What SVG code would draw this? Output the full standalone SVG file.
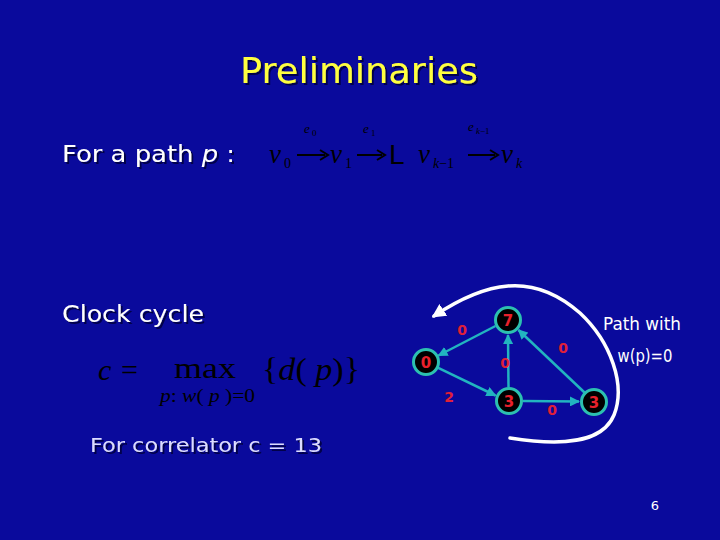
<svg xmlns="http://www.w3.org/2000/svg" width="720" height="540" viewBox="0 0 720 540">
<defs>
<style>
.comic{font-family:"Comic Sans MS","DejaVu Sans","Liberation Sans",sans-serif;}
.math{font-family:"Liberation Serif","Times New Roman",serif;fill:#000;}
.edge{stroke:#22b4c0;stroke-width:2.5;fill:none;marker-end:url(#ah);}
.node circle{fill:#000;stroke:#2cc0b0;stroke-width:3;}
.node text{font-family:"DejaVu Sans","Liberation Sans",sans-serif;font-weight:bold;font-size:15px;fill:#e8202c;text-anchor:middle;}
.elab{font-family:"DejaVu Sans","Liberation Sans",sans-serif;font-weight:bold;font-size:14px;fill:#e02038;text-anchor:middle;}
.shadow{filter:url(#sh);}
</style>
<marker id="ah" viewBox="0 0 10 10" refX="9" refY="5" markerWidth="4" markerHeight="4" orient="auto" markerUnits="strokeWidth">
<path d="M0,0 L10,5 L0,10 z" fill="#22b4c0"/>
</marker>
<marker id="wh" viewBox="0 0 10 10" refX="8" refY="5" markerWidth="4" markerHeight="4" orient="auto" markerUnits="strokeWidth">
<path d="M0,0 L10,5 L0,10 z" fill="#ffffff"/>
</marker>
<filter id="sh" x="-10%" y="-30%" width="120%" height="160%">
<feDropShadow dx="2" dy="2" stdDeviation="0.6" flood-color="#000040" flood-opacity="0.9"/>
</filter>
</defs>
<rect width="720" height="540" fill="#0a0a9c"/>

<g id="title">
<text class="comic shadow" x="359" y="83" font-size="36" fill="#ffff40" text-anchor="middle" textLength="238" lengthAdjust="spacingAndGlyphs">Preliminaries</text>
</g>

<g id="path-label">
<text class="comic shadow" x="62" y="162" font-size="23" fill="#ffffff" textLength="173" lengthAdjust="spacingAndGlyphs">For a path <tspan font-style="italic">p</tspan> :</text>
</g>

<g id="path-formula" class="math">
<text x="269" y="163" font-size="27" font-style="italic">v</text>
<text x="284" y="168" font-size="14">0</text>
<text x="304" y="133" font-size="13" font-style="italic">e</text><text x="312" y="136" font-size="9">0</text>
<line x1="297" y1="155" x2="325" y2="155" stroke="#000" stroke-width="2"/>
<path d="M320,150 L328,155 L320,160" fill="none" stroke="#000" stroke-width="2"/>
<text x="330" y="163" font-size="27" font-style="italic">v</text>
<text x="345" y="168" font-size="14">1</text>
<text x="363" y="133" font-size="13" font-style="italic">e</text><text x="371" y="136" font-size="9">1</text>
<line x1="357" y1="155" x2="382" y2="155" stroke="#000" stroke-width="2"/>
<path d="M377,150 L385,155 L377,160" fill="none" stroke="#000" stroke-width="2"/>
<text x="389" y="164" font-size="28" font-family="Liberation Sans, sans-serif">L</text>
<text x="418" y="163" font-size="27" font-style="italic">v</text>
<text x="433" y="168" font-size="14"><tspan font-style="italic">k</tspan>−1</text>
<text x="468" y="131" font-size="13" font-style="italic">e</text><text x="476" y="134" font-size="9"><tspan font-style="italic">k</tspan>−1</text>
<line x1="468" y1="155" x2="495" y2="155" stroke="#000" stroke-width="2"/>
<path d="M490,150 L498,155 L490,160" fill="none" stroke="#000" stroke-width="2"/>
<text x="501" y="163" font-size="27" font-style="italic">v</text>
<text x="516" y="168" font-size="14" font-style="italic">k</text>
</g>

<g id="clock-label">
<text class="comic shadow" x="62" y="322" font-size="23" fill="#ffffff" textLength="142" lengthAdjust="spacingAndGlyphs">Clock cycle</text>
</g>

<g id="clock-formula" class="math">
<text x="98" y="380" font-size="30" font-style="italic">c</text>
<text x="121" y="380" font-size="30">=</text>
<text x="174" y="378" font-size="29" textLength="62" lengthAdjust="spacingAndGlyphs">max</text>
<text x="160" y="402" font-size="19" textLength="95" lengthAdjust="spacingAndGlyphs"><tspan font-style="italic">p</tspan>: <tspan font-style="italic">w</tspan>( <tspan font-style="italic">p</tspan> )=0</text>
<text x="262" y="380" font-size="32" textLength="98" lengthAdjust="spacingAndGlyphs">{<tspan font-style="italic">d</tspan>( <tspan font-style="italic">p</tspan>)}</text>
</g>

<g id="correlator">
<text class="comic shadow" x="90" y="452" font-size="20" fill="#dcdcff" textLength="232" lengthAdjust="spacingAndGlyphs">For correlator c = 13</text>
</g>

<g id="connectors">
<line class="edge" x1="495.5" y1="326" x2="438.5" y2="355.5"/>
<line class="edge" x1="437.7" y1="367.6" x2="495.5" y2="395.5"/>
<line class="edge" x1="508.5" y1="387" x2="508" y2="335"/>
<line class="edge" x1="523" y1="401" x2="579" y2="401.5"/>
<line class="edge" x1="584.5" y1="392.5" x2="518.5" y2="330"/>
<path d="M510,438 C560,446 602,444 614,415 C626,385 611,342 580,313 C556,292 532,284 508,286 C482,288 458,300 434,316" fill="none" stroke="#ffffff" stroke-width="3.5" stroke-linecap="round" marker-end="url(#wh)"/>
</g>

<g id="edge-labels">
<text class="elab" x="462" y="335">0</text>
<text class="elab" x="449" y="402">2</text>
<text class="elab" x="505" y="368">0</text>
<text class="elab" x="563" y="353">0</text>
<text class="elab" x="552" y="415">0</text>
</g>

<g id="n7" class="node"><circle cx="508" cy="320" r="12.5"/><text x="508" y="326">7</text></g>
<g id="n0" class="node"><circle cx="426" cy="362" r="12.5"/><text x="426" y="368">0</text></g>
<g id="n3a" class="node"><circle cx="509" cy="401" r="12.5"/><text x="509" y="407">3</text></g>
<g id="n3b" class="node"><circle cx="594" cy="402" r="12.5"/><text x="594" y="408">3</text></g>

<g id="path-note">
<text class="comic" x="642" y="330" font-size="17" fill="#ffffff" text-anchor="middle" textLength="78" lengthAdjust="spacingAndGlyphs">Path with</text>
<text class="comic" x="645" y="362" font-size="17" fill="#ffffff" text-anchor="middle" textLength="55" lengthAdjust="spacingAndGlyphs">w(p)=0</text>
</g>

<g id="page-num">
<text x="655" y="510" font-family="DejaVu Sans, sans-serif" font-size="13" fill="#ffffff" text-anchor="middle">6</text>
</g>
</svg>
